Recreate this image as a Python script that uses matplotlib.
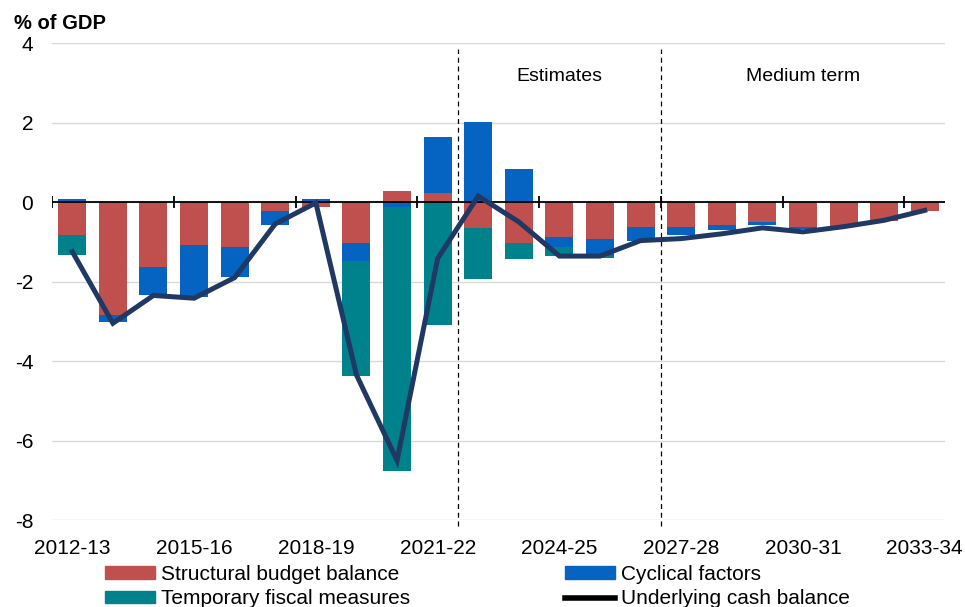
import matplotlib
matplotlib.use('Agg')
import matplotlib.pyplot as plt
from matplotlib.lines import Line2D
from matplotlib.patches import Patch
import numpy as np

plt.rcParams['font.family'] = ['Liberation Sans', 'DejaVu Sans']
plt.rcParams['axes.unicode_minus'] = False

years = ['2012-13', '2013-14', '2014-15', '2015-16', '2016-17', '2017-18',
         '2018-19', '2019-20', '2020-21', '2021-22', '2022-23', '2023-24',
         '2024-25', '2025-26', '2026-27', '2027-28', '2028-29', '2029-30',
         '2030-31', '2031-32', '2032-33', '2033-34']
structural = [-0.83, -2.83, -1.64, -1.09, -1.14, -0.23, -0.13, -1.04, 0.28, 0.22, -0.66,
              -1.04, -0.89, -0.94, -0.64, -0.64, -0.57, -0.51, -0.64, -0.61, -0.48, -0.23]
cyclical = [0.08, -0.20, -0.71, -1.31, -0.75, -0.35, 0.08, -0.45, -0.13, 1.42, 2.02,
            0.83, -0.24, -0.41, -0.35, -0.18, -0.13, -0.07, -0.04, 0.0, 0.0, 0.0]
temporary = [-0.50, 0, 0, 0, 0, 0, 0, -2.88, -6.64, -3.10, -1.28,
             -0.40, -0.22, -0.05, 0, 0, 0, 0, 0, 0, 0, 0]
underlying = [-1.25, -3.05, -2.35, -2.42, -1.90, -0.55, -0.02, -4.35, -6.50, -1.42, 0.15,
              -0.50, -1.36, -1.36, -0.97, -0.92, -0.80, -0.65, -0.75, -0.62, -0.46, -0.21]
series = [('Structural budget balance', structural, '#C0504D'),
          ('Cyclical factors', cyclical, '#0563C1'),
          ('Temporary fiscal measures', temporary, '#00828C')]
period_labels = [('Estimates', 12), ('Medium term', 18)]
period_breaks = [9.5, 14.5]

fig = plt.figure(figsize=(9.65, 6.07), dpi=100)
ax = fig.add_axes([0.0539, 0.1433, 0.9254, 0.7858])

x = np.arange(len(years))
pos_base = np.zeros(len(years))
neg_base = np.zeros(len(years))
for name, vals, col in series:
    v = np.array(vals, dtype=float)
    base = np.where(v >= 0, pos_base, neg_base)
    ax.bar(x, v, bottom=base, width=0.69, color=col, zorder=2)
    pos_base = pos_base + np.where(v > 0, v, 0)
    neg_base = neg_base + np.where(v < 0, v, 0)

ax.plot(x, underlying, color='#203864', lw=3.6, zorder=4, solid_joinstyle='miter')

# zero line and boundary ticks
ax.axhline(0, color='black', lw=1.3, zorder=3)
bounds = np.arange(-0.5, len(years), 3)
ax.vlines(bounds, -0.16, 0.16, color='black', lw=1.3, zorder=3)

for b in period_breaks:
    ax.vlines(b, -8.15, 3.85, color='black', lw=0.9, linestyles=(0, (4, 3)),
              zorder=3, clip_on=False)
for txt, px in period_labels:
    ax.text(px, 3.15, txt, ha='center', va='center', fontsize=14)

ax.set_xlim(-0.5, len(years) - 0.5)
ax.set_ylim(-8, 4)
ax.set_yticks(range(-8, 5, 2))
ax.set_xticks(x[::3])
ax.set_xticklabels(years[::3])
ax.tick_params(axis='both', length=0, labelsize=15)
ax.tick_params(axis='x', pad=14)
ax.tick_params(axis='y', pad=13.5)
ax.grid(axis='y', color='#D9D9D9', lw=1, zorder=0)
ax.set_axisbelow(True)
for s in ax.spines.values():
    s.set_visible(False)

fig.text(0.0145, 0.962, '% of GDP', fontsize=14.5, fontweight='bold', va='center')

handles = [Patch(color=series[0][2]), Patch(color=series[2][2]),
           Patch(color=series[1][2]), Line2D([], [], color='black', lw=4)]
labels = [series[0][0], series[2][0], series[1][0], 'Underlying cash balance']
fig.legend(handles, labels, ncol=2, loc='upper left', bbox_to_anchor=(0.109, 0.069),
           frameon=False, fontsize=15, handlelength=2.4, handleheight=0.55,
           handletextpad=0.3, columnspacing=7.4, labelspacing=0.25, borderaxespad=0,
           borderpad=0)

fig.savefig('out.png', dpi=100)
